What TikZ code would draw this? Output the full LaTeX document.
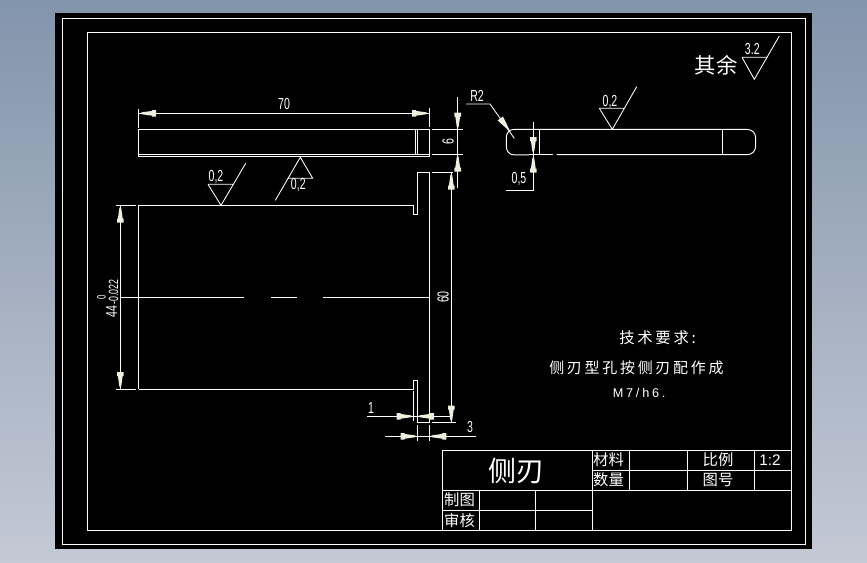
\documentclass[tikz,border=0pt]{standalone}
\usepackage{fontspec}
\setmainfont{Liberation Sans}
\newfontfamily\cjk{Noto Sans CJK SC}
\newfontfamily\cjkwide[LetterSpace=18]{Noto Sans CJK SC}
\newfontfamily\dimf[FakeStretch=0.66]{Liberation Sans}
\newfontfamily\widef[LetterSpace=22]{Liberation Sans}
\definecolor{bgtop}{HTML}{8395AB}
\definecolor{bgbot}{HTML}{C3C9D5}
\definecolor{tipc}{HTML}{EFEFE0}
\newcommand{\dimtip}[3]{\fill[tipc,shift={(#1,#2)},rotate=#3] (0,0) -- (-2,1) -- (-12,2.4) -- (-12,3.3) -- (-16,3.3) -- (-16,-3.3) -- (-12,-3.3) -- (-12,-2.4) -- (-2,-1) -- cycle;}
\tikzset{
  ln/.style={white,line width=0.72pt},
  thn/.style={white,line width=0.65pt},
  dimt/.style={white,inner sep=0pt,font=\dimf\fontsize{12pt}{12pt}\selectfont},
  cjkt/.style={white,inner sep=0pt},
}
\begin{document}
\begin{tikzpicture}[x=0.75pt,y=-0.75pt]
\useasboundingbox (0,0) rectangle (867,562);
\shade[top color=bgtop,bottom color=bgbot] (0,0) rectangle (867,562);
\fill[black] (55,13) rectangle (812,549);
\draw[ln] (62,18.5) rectangle (805,544);
\draw[ln] (87.5,32) rectangle (791.5,530.5);
% top view
\draw[ln] (138.5,129.5) rectangle (429.5,156.5);
\draw[ln] (138.5,154.3) -- (429.5,154.3);
\draw[ln] (415.7,129.5) -- (415.7,154.3) (417.7,129.5) -- (417.7,154.3);
% dim 70
\draw[ln] (138.5,109) -- (138.5,128) (429.5,108) -- (429.5,127);
\draw[ln] (138.5,113.3) -- (429.5,113.3);
\dimtip{140}{113.3}{180}\dimtip{428}{113.3}{0}
\node[dimt] (t70) at (284,104) {70};
% dim 6
\draw[ln] (432,129.5) -- (462.7,129.5) (432,154.3) -- (462.7,154.3);
\draw[ln] (457.7,97.3) -- (457.7,187.7);
\dimtip{457.7}{128.5}{270}\dimtip{457.7}{155.5}{90}
\node[dimt,rotate=90] (t6) at (448,142) {6};
% front view
\draw[ln] (138.5,205.3) -- (413.3,205.3) -- (413.3,214.3) -- (417.3,214.3) -- (417.3,172.3) -- (429.5,172.3) -- (429.5,422.4) -- (417.3,422.4) -- (417.3,380.3) -- (413.3,380.3) -- (413.3,389.3) -- (139.3,389.3);
\draw[ln] (138.5,205.3) -- (138.5,389.3);
\draw[ln] (413.3,390.7) -- (413.3,421);
% centre line
\draw[ln] (120.3,297.3) -- (244,297.3) (271,297.3) -- (297,297.3) (323,297.3) -- (429.5,297.3);
% dim 44
\draw[ln] (116,205.3) -- (135.7,205.3) (116,389.3) -- (135.7,389.3);
\draw[ln] (120.3,205.3) -- (120.3,389.3);
\dimtip{120.3}{206.5}{90}\dimtip{120.3}{388}{270}
\node[dimt,rotate=90,anchor=west] (t44) at (111.5,317.5) {44};
\node[dimt,rotate=90,font=\dimf\fontsize{9pt}{9pt}\selectfont] (t0) at (101.6,297.7) {0};
\node[dimt,rotate=90,anchor=west,font=\dimf\fontsize{10pt}{10pt}\selectfont] (t022) at (113.5,305) {-0.022};
% dim 60
\draw[ln] (432,172.3) -- (453,172.3) (432,422.4) -- (456,422.4);
\draw[ln] (451.3,172.3) -- (451.3,422.4);
\dimtip{451.3}{173.5}{90}\dimtip{451.3}{421.5}{270}
\node[dimt,rotate=90] (t60) at (443,297) {60};
% dim 1
\draw[ln] (367,416.3) -- (450,416.3);
\dimtip{412.5}{416.3}{0}\dimtip{418}{416.3}{180}
\node[dimt] (t1) at (371,407.7) {1};
% dim 3
\draw[ln] (417.3,425) -- (417.3,441) (429.5,425) -- (429.5,441);
\draw[ln] (385,436.3) -- (476,436.3);
\dimtip{416.5}{436.3}{0}\dimtip{430.3}{436.3}{180}
\node[dimt] (t3) at (470,427) {3};
% roughness
\draw[thn] (208,184.3) -- (233,184.3) (208,184.3) -- (221,205.3) -- (245.7,163.3);
\node[dimt] (r1) at (216,177) {0,2};
\draw[thn] (287.7,178.3) -- (312.7,178.3) -- (300.3,157.3) -- (275.3,200.3);
\node[dimt] (r2) at (298.3,185.3) {0,2};
\draw[thn] (599.3,108.3) -- (624,108.3) (599.3,108.3) -- (612.3,129.3) -- (636.7,86.7);
\node[dimt] (r3) at (610,101.5) {0,2};
\draw[thn] (742,57.3) -- (766.7,57.3) (742,57.3) -- (754.3,79.3) -- (779.3,36);
\node[dimt] (r4) at (752.3,49.3) {3.2};
\node[cjkt,font=\cjk\fontsize{16pt}{16pt}\selectfont] (qy) at (716,65) {其余};
% side view
\draw[ln] (514,129.4) -- (747,129.4) .. controls (752,129.4) and (755.7,133) .. (755.7,138) -- (755.7,146) .. controls (755.7,151) and (752,154.7) .. (747,154.7) -- (556.7,154.7);
\draw[ln] (552.7,154.9) -- (529,154.9);
\draw[ln] (514,129.4) .. controls (509,129.4) and (506.3,133) .. (506.3,138) -- (506.3,146) .. controls (506.3,151) and (509,154.7) .. (514,154.9) -- (529,154.9);
\draw[ln] (539.3,129.4) -- (539.3,154.7) (722.3,129.4) -- (722.3,154.7);
% R2
\draw[thn] (466,104) -- (490,104) -- (514.3,138.3);
\fill[tipc,shift={(510.5,132)},rotate=-53] (0,0) -- (-14,2.8) -- (-17,3.3) -- (-17,-3.3) -- (-14,-2.8) -- cycle;
\node[dimt] (tr2) at (477,95.7) {R2};
% dim 0.5
\draw[ln] (533.3,122.3) -- (533.3,190) -- (506,190);
\dimtip{533.3}{153}{270}\dimtip{533.3}{156.5}{90}
\node[dimt] (t05) at (519,179) {0,5};
% title block
\draw[ln] (442.7,450.3) -- (791.5,450.3) (592.7,470.3) -- (791.5,470.3) (442.7,490.3) -- (791.5,490.3) (442.7,510.3) -- (592.7,510.3);
\draw[ln] (442.7,450.3) -- (442.7,530.5) (592.7,450.3) -- (592.7,530.5);
\draw[ln] (629.3,450.3) -- (629.3,490.3) (687.3,450.3) -- (687.3,490.3) (754.3,450.3) -- (754.3,490.3);
\draw[ln] (479.3,490.3) -- (479.3,530.5) (535.7,490.3) -- (535.7,530.5);
\node[cjkt,font=\cjk\fontsize{21pt}{21pt}\selectfont] (title) at (516.5,470.5) {侧刃};
\node[cjkt,font=\cjk\fontsize{11.5pt}{11.5pt}\selectfont] (cl) at (608.5,460) {材料};
\node[cjkt,font=\cjk\fontsize{11.5pt}{11.5pt}\selectfont] (sl) at (608.5,480) {数量};
\node[cjkt,font=\cjk\fontsize{11.5pt}{11.5pt}\selectfont] (bl) at (718,460) {比例};
\node[cjkt,font=\cjk\fontsize{11.5pt}{11.5pt}\selectfont] (th) at (718,480) {图号};
\node[cjkt,font=\fontsize{11.5pt}{11.5pt}\selectfont] (sc) at (770,460) {1:2};
\node[cjkt,font=\cjk\fontsize{11.5pt}{11.5pt}\selectfont] (zt) at (459.5,500) {制图};
\node[cjkt,font=\cjk\fontsize{11.5pt}{11.5pt}\selectfont] (sh) at (459.5,520.5) {审核};
% notes
\node[cjkt,anchor=west,font=\cjkwide\fontsize{11.5pt}{11.5pt}\selectfont] (n1) at (619,338) {技术要求:};
\node[cjkt,anchor=west,font=\cjkwide\fontsize{11.25pt}{11.25pt}\selectfont] (n2) at (549,368) {侧刃型孔按侧刃配作成};
\node[cjkt,anchor=west,font=\widef\fontsize{9.5pt}{9.5pt}\selectfont] (n3) at (612.5,392.7) {M7/h6.};
\end{tikzpicture}
\end{document}
